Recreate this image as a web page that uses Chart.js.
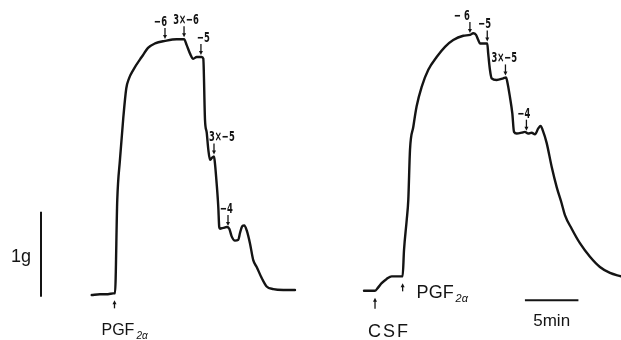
<!DOCTYPE html>
<html>
<head>
<meta charset="utf-8">
<script src="https://cdn.jsdelivr.net/npm/chart.js@4/dist/chart.umd.min.js"></script>
<style>
  html, body { margin: 0; padding: 0; background: #fff; }
  canvas { display: block; }
</style>
</head>
<body>
<canvas id="trace" width="621" height="340"></canvas>
<script>
// Isometric tension recordings: time (min, 0 = PGF2α on left strip) vs tension (g)
const leftTime = [-2.13, -1.36, -0.61, -0.11, 0.05, 0.26, 0.51, 0.82, 1.10, 1.36, 1.76, 2.54, 3.16, 3.79, 4.72, 5.81, 6.50,
  6.75, 7.06, 7.36, 7.68, 8.15, 8.30, 8.46, 8.62, 8.77, 8.93, 9.08, 9.30, 9.39, 9.55, 9.70, 9.79, 9.86, 10.17, 10.49,
  10.73, 10.95, 11.26, 11.57, 11.73, 11.94, 12.13, 12.36, 12.66, 12.97, 13.29, 13.76, 14.22, 14.84, 15.78, 16.87];
const leftTension = [0.00, 0.01, 0.01, 0.02, 0.02, 1.12, 1.59, 2.08, 2.43, 2.55, 2.65, 2.80, 2.91, 2.96, 2.99, 3.01, 3.01,
  2.94, 2.84, 2.78, 2.80, 2.80, 2.78, 2.06, 1.91, 1.71, 1.59, 1.61, 1.63, 1.55, 1.31, 1.04, 0.80, 0.78, 0.79, 0.80,
  0.78, 0.69, 0.64, 0.65, 0.73, 0.81, 0.82, 0.76, 0.61, 0.41, 0.33, 0.20, 0.10, 0.07, 0.06, 0.06];

const rightTime = [23.32, 24.35, 24.65, 24.97, 25.44, 25.91, 26.68, 26.93, 27.06, 27.31, 27.46, 27.62, 27.93, 28.24,
  28.71, 29.33, 30.11, 30.89, 31.66, 32.60, 33.22, 33.53, 33.79, 34.00, 34.16, 34.63, 34.84, 34.93, 35.09, 35.25,
  35.72, 36.34, 36.59, 36.71, 36.96, 37.18, 37.34, 37.59, 38.06, 38.36, 38.67, 38.99, 39.30, 39.61, 39.83, 40.02,
  40.39, 40.86, 41.33, 41.79, 42.10, 42.73, 43.50, 44.44, 45.37, 46.31, 47.34];
const rightTension = [0.05, 0.05, 0.09, 0.14, 0.19, 0.22, 0.22, 0.22, 0.53, 0.88, 1.12, 1.71, 1.98, 2.22,
  2.45, 2.65, 2.80, 2.92, 3.00, 3.05, 3.06, 3.08, 3.06, 3.00, 2.96, 2.96, 2.96, 2.84, 2.65, 2.55,
  2.53, 2.55, 2.56, 2.51, 2.33, 2.14, 1.92, 1.90, 1.91, 1.92, 1.90, 1.91, 1.89, 1.96, 1.99, 1.94,
  1.79, 1.51, 1.27, 1.08, 0.94, 0.78, 0.61, 0.45, 0.33, 0.26, 0.22];

// Dose marks above the traces (log molar concentration added)
const doseLabels = ['−6', '3×−6', '−5', '3×−5', '−4', '− 6', '−5', '3×−5', '−4'];
const doseTime = [4.72, 6.50, 8.08, 9.30, 10.61, 33.22, 34.84, 36.54, 38.50];
const doseTension = [2.99, 3.01, 2.80, 1.63, 0.79, 3.06, 2.96, 2.56, 1.91];

// Agent additions marked below the traces
const agentLabels = ['PGF', 'CSF', 'PGF'];
const agentTime = [0.0, 24.35, 26.93];
const agentTension = [0.02, 0.05, 0.22];

// Calibration bars
const calTensionG = 1;   // g
const calTimeMin = 5;    // min

const X_MIN = -10.70, X_MAX = 47.34, Y_MIN = -0.529, Y_MAX = 3.471;

const ink = '#141414';
const doseFont = 'bold 14px "DejaVu Sans", sans-serif';
const doseSquash = 0.6;   // condensed lettering of the dose marks
// text placement relative to each dose arrow: [align, dx]
const doseText = [['right', 2], ['center', 2], ['left', -4], ['left', -5], ['left', -8],
  ['right', 0], ['left', -9], ['left', -14], ['left', -9]];

function drawArrowDown(ctx, x, yTip, len) {
  ctx.beginPath();
  ctx.moveTo(x, yTip - len);
  ctx.lineTo(x, yTip - 3);
  ctx.stroke();
  ctx.beginPath();
  ctx.moveTo(x - 2, yTip - 4);
  ctx.lineTo(x + 2, yTip - 4);
  ctx.lineTo(x, yTip);
  ctx.closePath();
  ctx.fill();
}
function drawArrowUp(ctx, x, yTip, len) {
  ctx.beginPath();
  ctx.moveTo(x, yTip + len);
  ctx.lineTo(x, yTip + 3);
  ctx.stroke();
  ctx.beginPath();
  ctx.moveTo(x - 2, yTip + 4);
  ctx.lineTo(x + 2, yTip + 4);
  ctx.lineTo(x, yTip);
  ctx.closePath();
  ctx.fill();
}
function drawPGF(ctx, x, y, size) {
  ctx.textAlign = 'left';
  ctx.font = size + 'px "Liberation Sans", Arial, sans-serif';
  ctx.fillText('PGF', x, y);
  const w = ctx.measureText('PGF').width;
  ctx.font = 'italic ' + Math.round(size * 0.62) + 'px "Liberation Sans", Arial, sans-serif';
  ctx.fillText('2α', x + w + 2, y + 4);
}

const annotations = {
  id: 'annotations',
  afterDatasetsDraw(chart) {
    const ctx = chart.ctx;
    const xs = chart.scales.x, ys = chart.scales.y;
    ctx.save();
    ctx.fillStyle = ink;
    ctx.strokeStyle = ink;
    ctx.lineWidth = 1.3;
    ctx.textBaseline = 'alphabetic';

    // dose arrows and labels
    for (let i = 0; i < doseLabels.length; i++) {
      const px = xs.getPixelForValue(doseTime[i]);
      const py = ys.getPixelForValue(doseTension[i]) - 2;
      drawArrowDown(ctx, px, py, 11);
      ctx.save();
      ctx.font = doseFont;
      ctx.textAlign = doseText[i][0];
      ctx.translate(px + doseText[i][1], py - 13);
      ctx.scale(doseSquash, 1);
      ctx.fillText(doseLabels[i], 0, 0);
      ctx.restore();
    }

    // agent arrows below baseline
    for (let i = 0; i < agentLabels.length; i++) {
      const px = xs.getPixelForValue(agentTime[i]);
      const py = ys.getPixelForValue(agentTension[i]) + 7;
      drawArrowUp(ctx, px, py, i === 1 ? 11 : 8);
    }
    // agent names
    const a0 = xs.getPixelForValue(agentTime[0]);
    drawPGF(ctx, a0 - 13, 335, 16);
    const a1 = xs.getPixelForValue(agentTime[1]);
    ctx.font = '18px "Liberation Sans", Arial, sans-serif';
    ctx.textAlign = 'left';
    if ('letterSpacing' in ctx) ctx.letterSpacing = '2px';
    ctx.fillText(agentLabels[1], a1 - 7, 337);
    if ('letterSpacing' in ctx) ctx.letterSpacing = '0px';
    const a2 = xs.getPixelForValue(agentTime[2]);
    drawPGF(ctx, a2 + 14, 298, 18);

    // 1 g calibration bar
    ctx.lineWidth = 2;
    const bx = xs.getPixelForValue(-6.87);
    const by0 = ys.getPixelForValue(-0.02);
    const by1 = ys.getPixelForValue(-0.02 + calTensionG);
    ctx.beginPath();
    ctx.moveTo(bx, by0);
    ctx.lineTo(bx, by1);
    ctx.stroke();
    ctx.font = '18px "Liberation Sans", Arial, sans-serif';
    ctx.textAlign = 'right';
    ctx.fillText(calTensionG + 'g', bx - 10, 262);

    // 5 min calibration bar
    const tx0 = xs.getPixelForValue(38.36);
    const tx1 = xs.getPixelForValue(38.36 + calTimeMin);
    const ty = ys.getPixelForValue(-0.06);
    ctx.beginPath();
    ctx.moveTo(tx0, ty);
    ctx.lineTo(tx1, ty);
    ctx.stroke();
    ctx.textAlign = 'center';
    ctx.font = '17px "Liberation Sans", Arial, sans-serif';
    ctx.fillText(calTimeMin + 'min', (tx0 + tx1) / 2, 326);
    ctx.restore();
  }
};

function pts(t, v) { return t.map((x, i) => ({ x: x, y: v[i] })); }

new Chart(document.getElementById('trace'), {
  type: 'scatter',
  data: {
    datasets: [
      { data: pts(leftTime, leftTension) },
      { data: pts(rightTime, rightTension) }
    ]
  },
  options: {
    responsive: false,
    animation: false,
    devicePixelRatio: 1,
    layout: { padding: 0 },
    showLine: true,
    elements: {
      point: { radius: 0, hoverRadius: 0 },
      line: { borderColor: ink, borderWidth: 2.4, cubicInterpolationMode: 'monotone', borderJoinStyle: 'round', borderCapStyle: 'round' }
    },
    plugins: { legend: { display: false }, tooltip: { enabled: false } },
    scales: {
      x: { type: 'linear', min: X_MIN, max: X_MAX, display: false },
      y: { type: 'linear', min: Y_MIN, max: Y_MAX, display: false }
    }
  },
  plugins: [annotations]
});
</script>
</body>
</html>
